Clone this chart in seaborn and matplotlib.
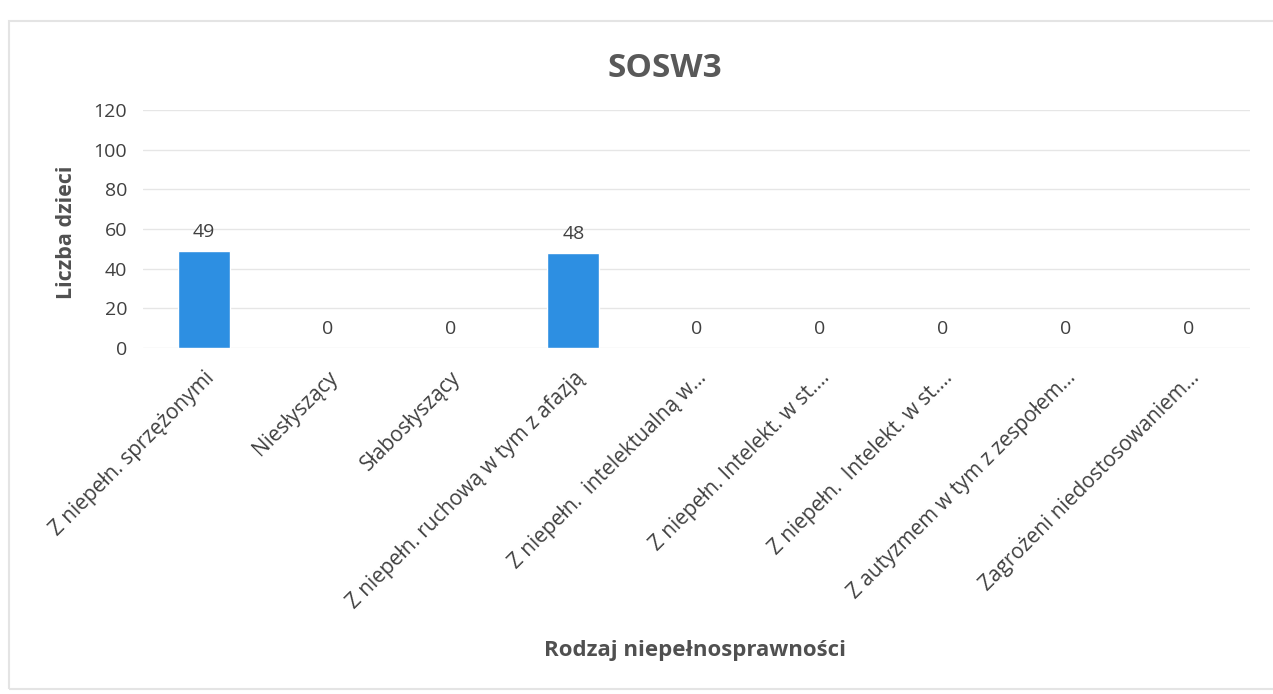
import numpy as np
import pandas as pd
import seaborn as sns
import matplotlib.pyplot as plt
from matplotlib.patches import Rectangle

categories = ["Z niepełn. sprzężonymi", "Niesłyszący", "Słabosłyszący",
              "Z niepełn. ruchową w tym z afazją", "Z niepełn.  intelektualną w…",
              "Z niepełn. Intelekt. w st.…", "Z niepełn.  Intelekt. w st.…",
              "Z autyzmem w tym z zespołem…", "Zagrożeni niedostosowaniem…"]
counts = [49, 0, 0, 48, 0, 0, 0, 0, 0]
yticks = [0, 20, 40, 60, 80, 100, 120]

df = pd.DataFrame({"rodzaj": categories, "liczba": counts})

sns.set_style("white")
plt.rcParams['font.family'] = ['Open Sans', 'DejaVu Sans']

fig = plt.figure(figsize=(12.73, 6.94), dpi=100)
ax = fig.add_axes([0.112, 0.499, 0.870, 0.342])
sns.barplot(data=df, x="rodzaj", y="liczba", color="#2d8fe2", width=0.42, ax=ax, saturation=1)

ax.set_ylim(0, 120)
ax.set_xlim(-0.5, len(categories) - 0.5)
ax.set_yticks(yticks)
ax.yaxis.grid(True, color="#e6e6e6", lw=1)
ax.set_axisbelow(True)
for s in ax.spines.values():
    s.set_visible(False)
ax.tick_params(axis="y", length=0, labelsize=14, labelcolor="#404040", pad=11)
ax.tick_params(axis="x", length=0, labelsize=15, labelcolor="#404040", pad=14)
plt.setp(ax.get_xticklabels(), rotation=45, ha="right", rotation_mode="anchor")

for i, v in enumerate(counts):
    ax.text(i, v + 5, str(v), ha="center", va="bottom", fontsize=14, color="#404040")

ax.set_xlabel("Rodzaj niepełnosprawności", fontsize=16, fontweight="bold", color="#505050")
ax.xaxis.set_label_coords(0.499, -1.23)
ax.set_ylabel("Liczba dzieci", fontsize=15.5, fontweight="bold", color="#505050")
ax.yaxis.set_label_coords(-0.059, 0.487)
fig.text(0.522, 0.902, "SOSW3", ha="center", va="center", fontsize=24, fontweight="bold", color="#595959")

# faint chart frame from the scan
fig.add_artist(Rectangle((0.007, 0.007), 1.1, 0.963, transform=fig.transFigure,
                         fill=False, edgecolor="#e4e4e4", lw=1.5))

fig.savefig("out.png", dpi=100)
